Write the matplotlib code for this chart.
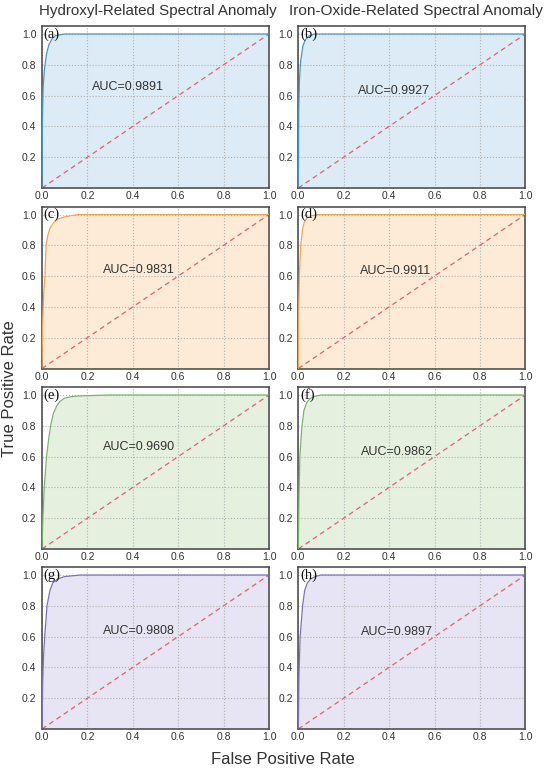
import numpy as np
from matplotlib import pyplot as plt

plt.rcParams['font.family'] = ['Liberation Sans', 'DejaVu Sans']

# Títulos das colunas e rótulos
titulos = ["Hydroxyl-Related Spectral Anomaly", "Iron-Oxide-Related Spectral Anomaly"]
rotulos = ["(a)", "(b)", "(c)", "(d)", "(e)", "(f)", "(g)", "(h)"]
aucs = ["0.9891", "0.9927", "0.9831", "0.9911", "0.9690", "0.9862", "0.9808", "0.9897"]

# Curvas ROC (FPR, TPR)
fpr_a = [0, 0.002, 0.005, 0.01, 0.015, 0.02, 0.03, 0.045, 0.06, 0.1, 1.0]
tpr_a = [0, 0.45, 0.65, 0.76, 0.82, 0.87, 0.93, 0.97, 0.99, 1.0, 1.0]
fpr_b = [0, 0.002, 0.005, 0.01, 0.02, 0.03, 0.045, 0.07, 1.0]
tpr_b = [0, 0.5, 0.7, 0.82, 0.92, 0.96, 0.985, 1.0, 1.0]
fpr_c = [0, 0.003, 0.008, 0.013, 0.018, 0.025, 0.035, 0.05, 0.07, 0.1, 0.16, 1.0]
tpr_c = [0, 0.3, 0.5, 0.6, 0.8, 0.86, 0.91, 0.945, 0.97, 0.985, 1.0, 1.0]
fpr_d = [0, 0.002, 0.005, 0.011, 0.018, 0.026, 0.04, 0.06, 0.09, 1.0]
tpr_d = [0, 0.4, 0.62, 0.8, 0.9, 0.95, 0.98, 0.993, 1.0, 1.0]
fpr_e = [0, 0.004, 0.01, 0.02, 0.03, 0.038, 0.05, 0.065, 0.08, 0.1, 0.13, 0.18, 0.3, 1.0]
tpr_e = [0, 0.2, 0.4, 0.6, 0.72, 0.8, 0.88, 0.93, 0.96, 0.98, 0.99, 0.995, 1.0, 1.0]
fpr_f = [0, 0.003, 0.007, 0.016, 0.025, 0.037, 0.05, 0.07, 0.1, 1.0]
tpr_f = [0, 0.35, 0.6, 0.8, 0.9, 0.95, 0.975, 0.99, 1.0, 1.0]
fpr_g = [0, 0.003, 0.007, 0.012, 0.022, 0.035, 0.048, 0.07, 0.1, 0.17, 1.0]
tpr_g = [0, 0.3, 0.48, 0.6, 0.8, 0.9, 0.95, 0.975, 0.99, 1.0, 1.0]
fpr_h = [0, 0.003, 0.008, 0.019, 0.028, 0.04, 0.055, 0.075, 0.1, 1.0]
tpr_h = [0, 0.35, 0.6, 0.8, 0.9, 0.95, 0.975, 0.99, 1.0, 1.0]

curvas = [(fpr_a, tpr_a), (fpr_b, tpr_b), (fpr_c, tpr_c), (fpr_d, tpr_d),
          (fpr_e, tpr_e), (fpr_f, tpr_f), (fpr_g, tpr_g), (fpr_h, tpr_h)]

# Cores por linha (linha, preenchimento)
cores_linha = ["#4a94c4", "#f0a452", "#78b46c", "#7a72b6"]
cores_fundo = ["#dcebf5", "#fdebd7", "#e5f0de", "#e7e4f3"]

# Posição do texto AUC em cada painel
pos_auc = [(0.22, 0.655), (0.265, 0.63), (0.27, 0.64), (0.27, 0.634),
           (0.27, 0.66), (0.277, 0.63), (0.27, 0.636), (0.277, 0.63)]

fig = plt.figure(figsize=(5.5, 7.71), dpi=100)
lefts = [42 / 550, 298.3 / 550]
largura = 227 / 550
tops = [26, 206.5, 387, 567]
altura = 162

for i in range(8):
    linha, col = divmod(i, 2)
    bottom = 1 - (tops[linha] + altura) / 771
    ax = fig.add_axes([lefts[col], bottom, largura, altura / 771])
    fpr, tpr = curvas[i]
    ax.fill_between(fpr, tpr, 0, color=cores_fundo[linha], lw=0, zorder=0)
    ax.plot(fpr, tpr, color=cores_linha[linha], lw=0.9, zorder=3)
    ax.plot([0, 1], [0, 1], color="#e0606e", lw=0.9, dashes=(4, 3), zorder=2)
    ax.set_xlim(0, 1)
    ax.set_ylim(0, 1.052)
    ax.set_xticks([0, 0.2, 0.4, 0.6, 0.8, 1.0])
    ax.set_yticks([0.2, 0.4, 0.6, 0.8, 1.0])
    ax.set_xticklabels(["0.0", "0.2", "0.4", "0.6", "0.8", "1.0"])
    ax.set_yticklabels(["0.2", "0.4", "0.6", "0.8", "1.0"])
    ax.tick_params(length=0, labelsize=7.5, colors="#333333")
    ax.tick_params(axis="y", pad=4)
    ax.tick_params(axis="x", pad=2.5)
    ax.grid(True, linestyle=":", color="#b0b0b0", lw=0.8, zorder=1)
    ax.set_axisbelow(True)
    for s in ax.spines.values():
        s.set_color("#444444")
        s.set_linewidth(1.1)
    ax.text(0.008, 1.0, rotulos[i], family=["Liberation Serif"], fontsize=10.5,
            ha="left", va="center", color="#111111", zorder=5)
    x0, y0 = pos_auc[i]
    ax.text(x0, y0, "AUC=" + aucs[i], fontsize=9, ha="left", va="center",
            color="#333333", zorder=5)

fig.text(158 / 550, 1 - 11 / 771, titulos[0], ha="center", va="center",
         fontsize=10.9, color="#333333")
fig.text(416 / 550, 1 - 11 / 771, titulos[1], ha="center", va="center",
         fontsize=11.1, color="#333333")
fig.text(10 / 550, 1 - 389 / 771, "True Positive Rate", rotation=90, ha="center",
         va="center", fontsize=12, color="#333333")
fig.text(283 / 550, 1 - 760 / 771, "False Positive Rate", ha="center",
         va="center", fontsize=12, color="#333333")

fig.savefig("out.png", dpi=100)
